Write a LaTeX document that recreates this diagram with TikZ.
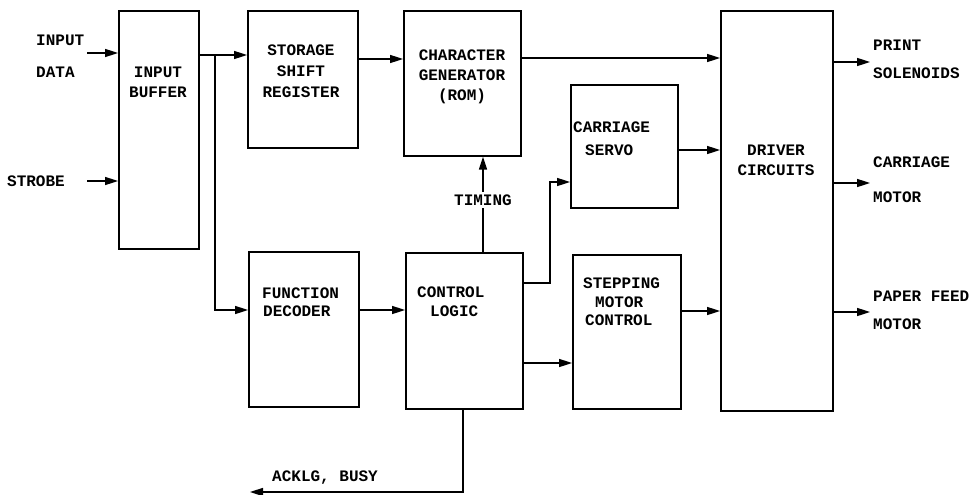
\documentclass[tikz,border=0pt]{standalone}
\usepackage{fontspec}
\setmainfont{Liberation Mono}
\usetikzlibrary{arrows.meta}
\begin{document}
\begin{tikzpicture}[x=1pt,y=-1pt,
  blk/.style={draw,line width=1.7pt,inner sep=0pt,anchor=north west},
  txt/.style={font=\bfseries\fontsize{16}{18}\selectfont,inner sep=0pt},
  ltxt/.style={txt,anchor=west},
  conn/.style={line width=1.6pt,-{Triangle[length=13pt,width=8pt]}},
  wire/.style={line width=1.6pt}]
\useasboundingbox (0,0) rectangle (975,495);
% blocks
\node[blk,minimum width=80pt,minimum height=238pt] (ib) at (118,10) {};
\node[blk,minimum width=110pt,minimum height=137pt] (ssr) at (247,10) {};
\node[blk,minimum width=117pt,minimum height=145pt] (cg) at (403,10) {};
\node[blk,minimum width=107pt,minimum height=123pt] (cs) at (570,84) {};
\node[blk,minimum width=112pt,minimum height=400pt] (dc) at (720,10) {};
\node[blk,minimum width=110pt,minimum height=155pt] (fd) at (248,251) {};
\node[blk,minimum width=117pt,minimum height=156pt] (cl) at (405,252) {};
\node[blk,minimum width=108pt,minimum height=154pt] (sm) at (572,254) {};
% helper coordinates
\coordinate (idin) at (87,53);
\coordinate (stin) at (87,181);
\coordinate (j) at (215,55);
\coordinate (fdy) at (0,310);
\coordinate (sy) at (0,59);
\coordinate (cgy) at (0,58);
\coordinate (csy) at (0,150);
\coordinate (tx) at (483,0);
\coordinate (k1) at (550,283);
\coordinate (k2) at (550,182);
\coordinate (smy) at (0,363);
\coordinate (sdy) at (0,311);
\coordinate (o1) at (870,62);
\coordinate (o2) at (870,183);
\coordinate (o3) at (870,312);
\coordinate (ax) at (463,0);
\coordinate (a1) at (463,492);
\coordinate (a2) at (250,492);
% connectors
\draw[conn] (idin) -- (idin -| ib.west);
\draw[conn] (stin) -- (stin -| ib.west);
\draw[conn] (ib.east |- j) -- (ssr.west |- j);
\draw[conn] (j) |- (fd.west |- fdy);
\draw[conn] (ssr.east |- sy) -- (cg.west |- sy);
\draw[conn] (cg.east |- cgy) -- (dc.west |- cgy);
\draw[conn] (cs.east |- csy) -- (dc.west |- csy);
\draw[conn] (fd.east |- fdy) -- (cl.west |- fdy);
\draw[conn] (cl.north -| tx) -- (cg.south -| tx);
\draw[conn] (cl.east |- k1) -- (k1) -- (k2) -- (cs.west |- k2);
\draw[conn] (cl.east |- smy) -- (sm.west |- smy);
\draw[conn] (sm.east |- sdy) -- (dc.west |- sdy);
\draw[conn] (dc.east |- o1) -- (o1);
\draw[conn] (dc.east |- o2) -- (o2);
\draw[conn] (dc.east |- o3) -- (o3);
\draw[conn] (cl.south -| ax) -- (a1) -- (a2);
% labels
\node[ltxt] (l1) at (36,40) {INPUT};
\node[ltxt] (l2) at (36,72) {DATA};
\node[ltxt] (l3) at (7,181) {STROBE};
\node[txt] (l4) at (158,72) {INPUT};
\node[txt] (l5) at (158,92) {BUFFER};
\node[txt] (l6) at (301,50) {STORAGE};
\node[txt] (l7) at (301,71) {SHIFT};
\node[txt] (l8) at (301,92) {REGISTER};
\node[txt] (l9) at (462,55) {CHARACTER};
\node[txt] (l10) at (462,75) {GENERATOR};
\node[txt] (l11) at (462,96) {(ROM)};
\node[ltxt] (l12) at (573,127) {CARRIAGE};
\node[ltxt] (l13) at (585,150) {SERVO};
\node[txt,fill=white,inner ysep=3pt] (l14) at (483,200) {TIMING};
\node[txt] (l15) at (776,150) {DRIVER};
\node[txt] (l16) at (776,170) {CIRCUITS};
\node[ltxt] (l17) at (873,45) {PRINT};
\node[ltxt] (l18) at (873,73) {SOLENOIDS};
\node[ltxt] (l19) at (873,162) {CARRIAGE};
\node[ltxt] (l20) at (873,197) {MOTOR};
\node[ltxt] (l21) at (873,296) {PAPER FEED};
\node[ltxt] (l22) at (873,324) {MOTOR};
\node[ltxt] (l23) at (262,293) {FUNCTION};
\node[ltxt] (l24) at (263,311) {DECODER};
\node[ltxt] (l25) at (417,292) {CONTROL};
\node[ltxt] (l26) at (430,311) {LOGIC};
\node[ltxt] (l27) at (583,283) {STEPPING};
\node[ltxt] (l28) at (595,302) {MOTOR};
\node[ltxt] (l29) at (585,320) {CONTROL};
\node[ltxt] (l30) at (272,478) {ACKLG, BUSY};
\end{tikzpicture}
\end{document}
